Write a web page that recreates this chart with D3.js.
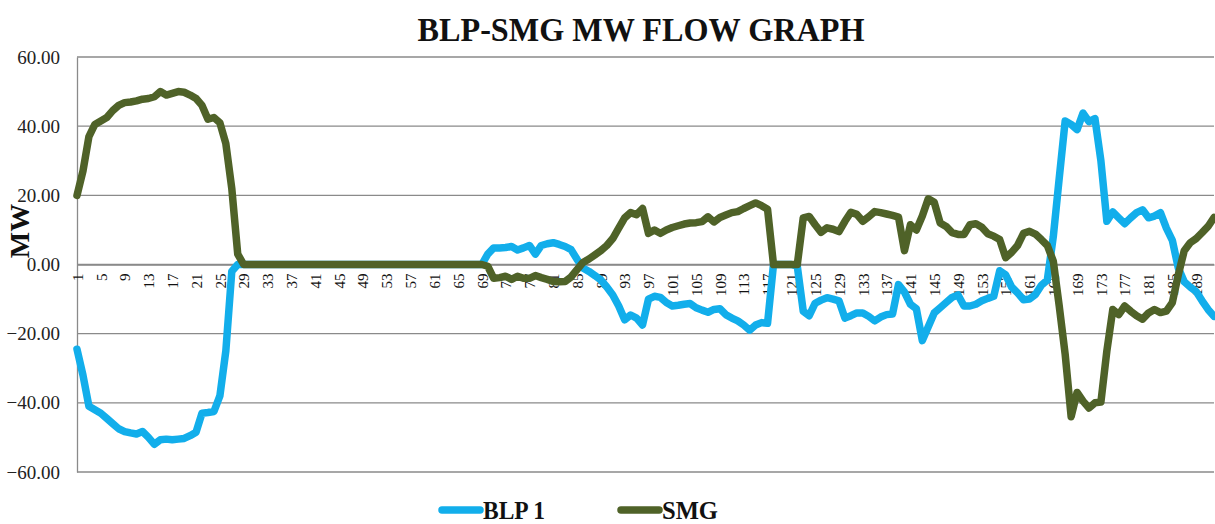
<!DOCTYPE html>
<html>
<head>
<meta charset="utf-8">
<script src="https://cdn.jsdelivr.net/npm/d3@7"></script>
<style>
body { margin:0; background:white; }
svg { display:block; font-family:"Liberation Serif","DejaVu Serif",serif; }
</style>
</head>
<body>
<svg id="chart"></svg>
<script>
var yTicks = [-60,-40,-20,0,20,40,60];

var xTicks = d3.range(1,190,4);

// BLP 1, readings 1..192
var blp1 = [
 -24.5,-32,-41,-42,-43,-44.5,-46,-47.5,-48.3,-48.7,
 -49,-48.3,-50,-52,-50.7,-50.5,-50.7,-50.5,-50.3,-49.5,
 -48.5,-43,-42.8,-42.5,-38,-25,-2,0,0,0,
 0,0,0,0,0,0,0,0,0,0,
 0,0,0,0,0,0,0,0,0,0,
 0,0,0,0,0,0,0,0,0,0,
 0,0,0,0,0,0,0,0,0,3,
 4.8,4.8,4.9,5.2,4.2,4.8,5.5,3,5.5,6,
 6.3,5.8,5.2,4.3,1.5,-1,-2,-3.2,-4.5,-6.5,
 -8.8,-12,-16,-14.6,-15.5,-17.5,-10,-9.2,-9.5,-11,
 -12,-11.8,-11.5,-11.3,-12.5,-13.2,-13.8,-13,-12.8,-14.5,
 -15.5,-16.3,-17.5,-19,-17.5,-16.8,-17,0,0,0,
 0,-0.5,-13.5,-14.8,-11.2,-10.3,-9.6,-10,-10.5,-15.5,
 -14.8,-14,-14,-15,-16.3,-15.2,-14.5,-14.3,-5.8,-8,
 -11.5,-12.8,-22,-18,-14,-12.5,-11,-9.5,-8.8,-12,
 -12,-11.5,-10.5,-9.8,-9.2,-1.8,-3,-6.5,-8.2,-10.2,
 -10,-8.7,-6,-4.5,8,25,41.5,40.5,39,43.8,
 41.3,42.2,30,12.5,15.2,13.5,11.8,13.5,15,15.8,
 13.5,14,15,10.5,7,-1,-5,-6.5,-7.8,-10.5,
 -13,-15
];

// SMG, readings 1..192
var smg = [
 20,27,37,40.5,41.5,42.5,44.5,46,46.8,47,
 47.3,47.8,48,48.5,50,49,49.5,50,49.8,49,
 48,46,42,42.5,41,35,22,3,0,0,
 0,0,0,0,0,0,0,0,0,0,
 0,0,0,0,0,0,0,0,0,0,
 0,0,0,0,0,0,0,0,0,0,
 0,0,0,0,0,0,0,0,0,-0.5,
 -4,-3.8,-3.4,-4.3,-3.4,-4,-4,-3.2,-3.8,-4.3,
 -4.9,-5,-4.9,-3.6,-1.5,0.6,1.6,2.8,4,5.5,
 7.5,10.5,13.5,15,14.4,16.2,9,10,9,10,
 10.7,11.2,11.7,12,12.1,12.4,13.8,12.3,13.6,14.3,
 15,15.3,16.2,17,17.8,17,16,0,0,0,
 0,0,13.5,13.9,11.5,9.3,10.6,10.2,9.5,12.5,
 15.1,14.5,12.5,13.8,15.3,15,14.6,14.2,13.7,4,
 11.5,10,14,19,18,12,11,9.2,8.7,8.7,
 11.5,11.8,10.8,8.9,8.2,7.2,2,3.5,5.5,9,
 9.6,8.8,7.2,5.5,1,-12,-26,-44,-37,-39.5,
 -41.5,-40,-39.8,-25,-13,-14.5,-12,-13.5,-14.8,-15.8,
 -14,-13,-13.9,-13.5,-11,-3,4,6.3,7.5,9.2,
 11,13.6
];

var seriesNames = ["BLP 1","SMG"];
var seriesColors = ["#12AEEB","#4F6228"];

var screen = {width:1215, height:524};
var margins = {top:57, left:77, right:1, bottom:52};
var graph = {
    width: screen.width-margins.left-margins.right,
    height: screen.height-margins.top-margins.bottom
};

var svg = d3.select("#chart")
    .attr("width",screen.width)
    .attr("height",screen.height);

var xScale = d3.scaleLinear()
    .domain([1,blp1.length])
    .range([margins.left,margins.left+graph.width]);

var yScale = d3.scaleLinear()
    .domain([-60,60])
    .range([margins.top+graph.height,margins.top]);

// gridlines
svg.append("g")
    .selectAll("line")
    .data(yTicks)
    .enter()
    .append("line")
    .attr("x1",margins.left)
    .attr("x2",margins.left+graph.width)
    .attr("y1",function(d){return yScale(d)})
    .attr("y2",function(d){return yScale(d)})
    .attr("stroke","#8a8a8a")
    .attr("stroke-width",1.3);

// y axis
var yAxis = d3.axisLeft(yScale)
    .tickValues(yTicks)
    .tickFormat(d3.format(".2f"))
    .tickSize(0)
    .tickPadding(17);

var yG = svg.append("g")
    .attr("transform","translate("+margins.left+",0)")
    .call(yAxis);
yG.select(".domain").attr("stroke","#8a8a8a").attr("stroke-width",1.3);
yG.selectAll("text")
    .attr("font-size",19)
    .attr("fill","#222")
    .attr("font-family","Liberation Serif");

// x axis on the zero line
var xAxis = d3.axisBottom(xScale)
    .tickValues(xTicks)
    .tickFormat(d3.format("d"))
    .tickSize(0);

var xG = svg.append("g")
    .attr("transform","translate(0,"+yScale(0)+")")
    .call(xAxis);
xG.select(".domain").attr("stroke","#8a8a8a").attr("stroke-width",1.3);
xG.selectAll("text")
    .attr("font-size",15)
    .attr("fill","#111")
    .attr("font-family","Liberation Serif")
    .attr("text-anchor","end")
    .attr("dy","0.35em")
    .attr("transform","translate(0,7) rotate(-90)")
    .attr("x",-2)
    .attr("y",0);

// lines
var lineGenerator = d3.line()
    .x(function(v,i){return xScale(i+1)})
    .y(function(v){return yScale(v)});

svg.append("g")
    .selectAll("path")
    .data([blp1,smg])
    .enter()
    .append("path")
    .attr("d",lineGenerator)
    .attr("fill","none")
    .attr("stroke",function(d,i){return seriesColors[i]})
    .attr("stroke-width",7.5)
    .attr("stroke-linejoin","round")
    .attr("stroke-linecap","round");

// title & labels
svg.append("text")
    .text("BLP-SMG MW FLOW GRAPH")
    .attr("x",641)
    .attr("y",41)
    .attr("text-anchor","middle")
    .attr("font-size",33)
    .attr("font-weight","bold")
    .attr("textLength",447)
    .attr("lengthAdjust","spacingAndGlyphs")
    .attr("fill","#111");

svg.append("text")
    .text("MW")
    .attr("transform","translate(29,231) rotate(-90)")
    .attr("text-anchor","middle")
    .attr("font-size",28)
    .attr("font-weight","bold")
    .attr("fill","#111");

// legend
var legendX = [440,619];
var legend = svg.append("g")
    .selectAll("g")
    .data(seriesNames)
    .enter()
    .append("g")
    .attr("transform",function(d,i){return "translate("+legendX[i]+",510)"});

legend.append("line")
    .attr("x1",2)
    .attr("x2",40)
    .attr("stroke",function(d,i){return seriesColors[i]})
    .attr("stroke-width",7.5)
    .attr("stroke-linecap","round");

legend.append("text")
    .text(function(d){return d})
    .attr("x",43)
    .attr("y",9)
    .attr("font-size",26)
    .attr("font-weight","bold")
    .attr("textLength",function(d,i){return i==0 ? 62 : 56})
    .attr("lengthAdjust","spacingAndGlyphs")
    .attr("fill","#111");
</script>
</body>
</html>
